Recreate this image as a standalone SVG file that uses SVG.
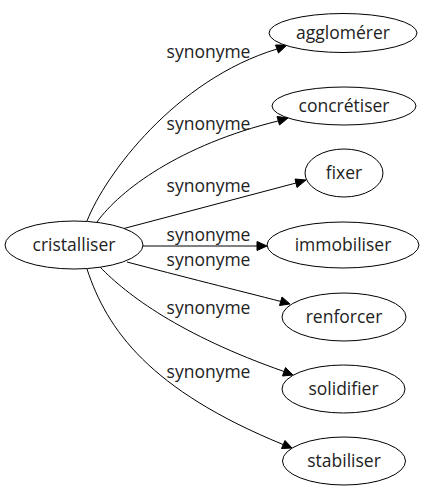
<svg xmlns="http://www.w3.org/2000/svg" width="426" height="491" viewBox="0 0 426 491">
<defs>
<style>
.n ellipse{fill:#fff;stroke:#000;stroke-width:1}
.n text{font-family:"Open Sans","DejaVu Sans",sans-serif;font-size:17.5px;text-anchor:middle;fill:#222}
.e path{fill:none;stroke:#000;stroke-width:1}
.e polygon{fill:#000;stroke:#000;stroke-width:1}
.e text{font-family:"Open Sans","DejaVu Sans",sans-serif;font-size:17.5px;text-anchor:middle;fill:#222}
</style>
</defs>
<rect width="426" height="491" fill="#fff"/>
<g id="edges" class="e">
<path d="M87,221 C105,175 175,80 277,49"/>
<polygon points="287,45 278.5,53 275.5,45"/>
<text x="208.5" y="58">synonyme</text>
<path d="M97,222 C120,190 180,145 278,121"/>
<polygon points="288,118 279.5,125 277,116.5"/>
<text x="208.5" y="130">synonyme</text>
<path d="M122,229 L296,183"/>
<polygon points="306,180 297,187.5 295,179"/>
<text x="208.5" y="192">synonyme</text>
<path d="M142,246 L257,246"/>
<polygon points="267,246 257,241.5 257,250.5"/>
<text x="208.5" y="240.5">synonyme</text>
<path d="M127,262 C180,276 240,291 281,301.5"/>
<polygon points="290,304 279.5,305.5 282,297"/>
<text x="208.5" y="266">synonyme</text>
<path d="M100,267 C127,295 180,335 284,371.5"/>
<polygon points="293,375 282.5,376 285.5,367.5"/>
<text x="208.5" y="314">synonyme</text>
<path d="M87,269 C107,330 150,390 283,444.5"/>
<polygon points="292,448 281.5,448.5 285,440.5"/>
<text x="208.5" y="378">synonyme</text>
</g>
<g id="cristalliser" class="n"><ellipse cx="74" cy="245" rx="69" ry="24"/><text x="74" y="250.7">cristalliser</text></g>
<g id="agglomerer" class="n"><ellipse cx="343" cy="33" rx="74" ry="19.5"/><text x="343" y="38.5">agglomérer</text></g>
<g id="concretiser" class="n"><ellipse cx="344" cy="106" rx="72" ry="19"/><text x="344" y="111.5">concrétiser</text></g>
<g id="fixer" class="n"><ellipse cx="344" cy="173" rx="39" ry="24"/><text x="344" y="178.5">fixer</text></g>
<g id="immobiliser" class="n"><ellipse cx="343" cy="245" rx="76" ry="23"/><text x="343" y="250.5">immobiliser</text></g>
<g id="renforcer" class="n"><ellipse cx="344" cy="317" rx="62" ry="24"/><text x="344" y="322.5">renforcer</text></g>
<g id="solidifier" class="n"><ellipse cx="343.5" cy="389" rx="61.5" ry="24"/><text x="343.5" y="394.5">solidifier</text></g>
<g id="stabiliser" class="n"><ellipse cx="344" cy="461" rx="61.5" ry="24"/><text x="344" y="466.5">stabiliser</text></g>
</svg>
